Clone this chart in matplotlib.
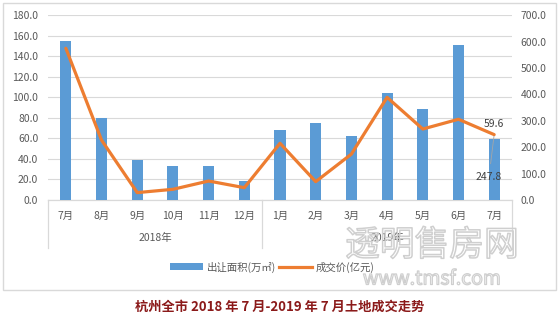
import matplotlib
matplotlib.use("Agg")
import matplotlib.pyplot as plt
import matplotlib.patheffects as pe
from matplotlib.patches import Rectangle
from matplotlib.lines import Line2D
from matplotlib.patches import Patch
import numpy as np

plt.rcParams['font.family'] = ['Noto Sans CJK SC', 'DejaVu Sans']

months = ["7月", "8月", "9月", "10月", "11月", "12月",
          "1月", "2月", "3月", "4月", "5月", "6月", "7月"]
years = ["2018年", "2019年"]
year_counts = [6, 7]
area = [155.0, 80.0, 39.0, 33.5, 33.5, 18.5, 68.0, 75.0, 62.4, 104.0, 88.7, 151.0, 59.6]
price = [575.0, 227.0, 28.0, 40.5, 72.0, 46.7, 215.0, 69.5, 174.0, 389.0, 269.0, 306.0, 247.8]
left_ticks = [0, 20, 40, 60, 80, 100, 120, 140, 160, 180]
right_ticks = [0, 100, 200, 300, 400, 500, 600, 700]
title = "杭州全市 2018 年 7 月-2019 年 7 月土地成交走势"

W, H = 560, 323
fig = plt.figure(figsize=(W / 100, H / 100), dpi=100)

# outer frame
fig.patches.append(Rectangle((3 / W, 1 - 290 / H), 553 / W, 287 / H,
                             transform=fig.transFigure, fill=False,
                             edgecolor='#d9d9d9', linewidth=1.0))

ax = fig.add_axes([48 / W, 1 - 200 / H, 464 / W, 184.7 / H])
ax2 = ax.twinx()

x = np.arange(len(months))
ax.bar(x, area, width=0.31, color='#5b9bd5', zorder=3)
ax.set_xlim(-0.5, len(months) - 0.5)
ax.set_ylim(0, 180)
ax.set_yticks(left_ticks)
ax.set_yticklabels([f"{v:.1f}" for v in left_ticks])
ax.grid(axis='y', color='#d9d9d9', linewidth=0.8, zorder=0)
ax.set_axisbelow(True)

ax2.plot(x, price, color='#ed7d31', linewidth=2.3, solid_capstyle='round', zorder=4)
ax2.set_ylim(0, 700)
ax2.set_yticks(right_ticks)
ax2.set_yticklabels([f"{v:.1f}" for v in right_ticks])

for a in (ax, ax2):
    for s in a.spines.values():
        s.set_visible(False)
    a.tick_params(axis='y', length=0, labelsize=7.5, labelcolor='#595959', pad=7)
ax2.tick_params(axis='y', pad=6)

ax.set_xticks(x)
ax.set_xticklabels(months)
ax.tick_params(axis='x', length=0, labelsize=7.5, labelcolor='#595959', pad=8)

# multi-level category separators
n = len(months)
bounds = [0]
for c in year_counts:
    bounds.append(bounds[-1] + c)
for b in bounds:
    xd = b - 0.5
    ax.plot([xd, xd], [0, -0.26], transform=ax.get_xaxis_transform(),
            color='#d9d9d9', linewidth=0.9, clip_on=False)
ax.plot([-0.5, n - 0.5], [0, 0], transform=ax.get_xaxis_transform(),
        color='#d9d9d9', linewidth=0.9, clip_on=False)
for i, yl in enumerate(years):
    cx = (bounds[i] + bounds[i + 1]) / 2 - 0.5
    ax.text(cx, -0.205, yl, transform=ax.get_xaxis_transform(),
            ha='center', va='center', fontsize=7.5, color='#595959')

# data labels
ax2.annotate(f"{area[-1]:.1f}", xy=(x[-1], price[-1]), xytext=(494 / W, 1 - 124 / H),
             textcoords='figure fraction', ha='center', va='center',
             fontsize=7.5, color='#404040')
ax2.annotate(f"{price[-1]:.1f}", xy=(x[-1], price[-1]), xytext=(489 / W, 1 - 177 / H),
             textcoords='figure fraction', ha='center', va='center',
             fontsize=7.5, color='#404040',
             arrowprops=dict(arrowstyle='-', color='#a6a6a6', linewidth=0.6,
                             shrinkA=4, shrinkB=0))

# watermark (outlined, transparent fill)
wm = fig.text(432 / W, 1 - 246 / H, "透明售房网", ha='center', va='center',
              fontsize=25, color=(1, 1, 1, 0))
wm.set_path_effects([pe.Stroke(linewidth=1.1, foreground='#cfcfcf'), pe.Normal()])
wm2 = fig.text(432 / W, 1 - 279 / H, "www.tmsf.com", ha='center', va='center',
               fontsize=14, color=(1, 1, 1, 0))
wm2.set_path_effects([pe.Stroke(linewidth=0.9, foreground='#cfcfcf'), pe.Normal()])

# legend
handles = [Patch(facecolor='#5b9bd5', edgecolor='none'),
           Line2D([0], [0], color='#ed7d31', linewidth=2.3)]
fig.legend(handles, ["出让面积(万㎡)", "成交价(亿元)"], loc='center',
           bbox_to_anchor=(272 / W, 1 - 267 / H), ncol=2, frameon=False,
           fontsize=7.5, labelcolor='#595959', handlelength=3.2, handleheight=0.6,
           handletextpad=0.3, columnspacing=0.3)

fig.text(0.5, 1 - 307 / H, title, ha='center', va='center', fontsize=9.5,
         fontweight='bold', color='#8b1a1a')

fig.savefig("out.png", dpi=100)
